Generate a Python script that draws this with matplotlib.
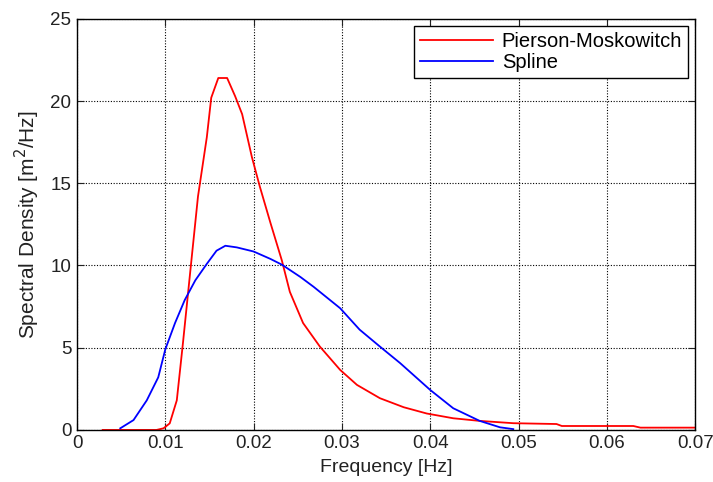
import matplotlib.pyplot as plt

plt.rcParams['font.family'] = ['Liberation Sans', 'DejaVu Sans']

# Pierson-Moskowitch spectrum samples (frequency in Hz, density in m^2/Hz)
pm_freq = [0.0029, 0.0090, 0.0098, 0.0105, 0.0113, 0.0120, 0.0128, 0.0137,
           0.0147, 0.0152, 0.0160, 0.0170, 0.0179, 0.0187, 0.0198, 0.0207,
           0.0219, 0.0232, 0.0241, 0.0256, 0.0275, 0.0298, 0.0317, 0.0343,
           0.0370, 0.0396, 0.0426, 0.0456, 0.0494, 0.0543, 0.0549, 0.0630,
           0.0638, 0.0700]
pm_dens = [0.0, 0.0, 0.1, 0.4, 1.8, 5.3, 9.5, 14.2,
           17.8, 20.2, 21.4, 21.4, 20.3, 19.2, 16.6, 14.8,
           12.6, 10.3, 8.4, 6.5, 5.07, 3.65, 2.74, 1.93,
           1.38, 1.0, 0.71, 0.55, 0.41, 0.36, 0.24, 0.24,
           0.14, 0.14]

# Spline fit samples
sp_freq = [0.0049, 0.0064, 0.0079, 0.0092, 0.0100, 0.0111, 0.0122, 0.0134,
           0.0147, 0.0158, 0.0168, 0.0181, 0.0200, 0.0219, 0.0232, 0.0253,
           0.0268, 0.0298, 0.0320, 0.0343, 0.0366, 0.0400, 0.0426, 0.0456,
           0.0479, 0.0494]
sp_dens = [0.1, 0.6, 1.8, 3.2, 4.9, 6.5, 7.9, 9.1,
           10.1, 10.9, 11.2, 11.1, 10.85, 10.4, 10.05, 9.3,
           8.7, 7.4, 6.1, 5.07, 4.06, 2.43, 1.32, 0.55,
           0.16, 0.05]

x_ticks = [0, 0.01, 0.02, 0.03, 0.04, 0.05, 0.06, 0.07]
x_labels = ['0', '0.01', '0.02', '0.03', '0.04', '0.05', '0.06', '0.07']
y_ticks = [0, 5, 10, 15, 20, 25]

fig = plt.figure(figsize=(7.13, 4.82), dpi=100)
ax = fig.add_axes([0.108, 0.108, 0.867, 0.853])

ax.plot(pm_freq, pm_dens, color='#ff0000', lw=1.3, label='Pierson-Moskowitch')
ax.plot(sp_freq, sp_dens, color='#0000ff', lw=1.3, label='Spline')

ax.set_xlim(0, 0.07)
ax.set_ylim(0, 25)
ax.set_xticks(x_ticks)
ax.set_xticklabels(x_labels)
ax.set_yticks(y_ticks)
ax.tick_params(direction='in', top=True, right=True, labelsize=13.5,
               length=5, width=0.8, colors='#222222', pad=4)
ax.grid(True, linestyle=(0, (1, 1.5)), color='black', lw=0.8)
for s in ax.spines.values():
    s.set_linewidth(1.0)

ax.set_xlabel('Frequency [Hz]', fontsize=14, color='#222222', labelpad=5)
ax.set_ylabel('Spectral Density [m$^2$/Hz]', fontsize=15, color='#222222',
              labelpad=6)

leg = ax.legend(loc='upper right', fontsize=14.5, fancybox=False,
                edgecolor='black', framealpha=1, borderaxespad=0.35,
                handlelength=3.6, handletextpad=0.45, borderpad=0.3,
                labelspacing=0.12)
leg.get_frame().set_linewidth(1.0)

fig.savefig('out.png', dpi=100)
